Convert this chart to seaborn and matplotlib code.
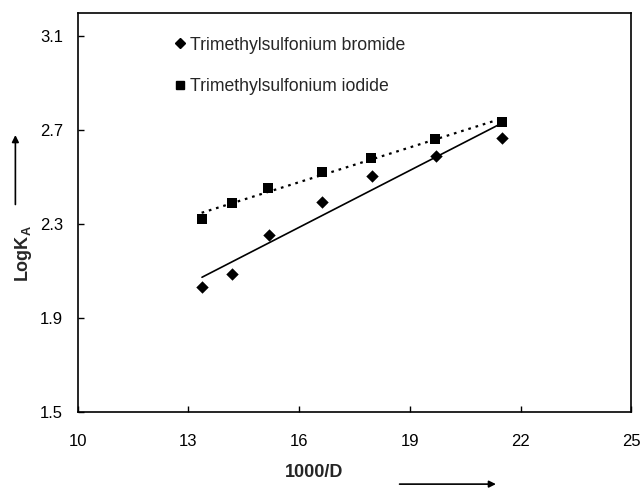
import numpy as np
import pandas as pd
import matplotlib
matplotlib.use("Agg")
import matplotlib.pyplot as plt
import seaborn as sns
from matplotlib.lines import Line2D

# Data
x_bromide = [13.37, 14.19, 15.19, 16.62, 17.97, 19.70, 21.50]
y_bromide = [2.032, 2.089, 2.255, 2.395, 2.503, 2.592, 2.667]
x_iodide = [13.36, 14.17, 15.17, 16.61, 17.94, 19.69, 21.49]
y_iodide = [2.320, 2.391, 2.455, 2.524, 2.581, 2.663, 2.734]
labels = ["Trimethylsulfonium bromide", "Trimethylsulfonium iodide"]
x_ticks = [10, 13, 16, 19, 22, 25]
y_ticks = [1.5, 1.9, 2.3, 2.7, 3.1]

sns.set_style("white")
plt.rcParams['font.family'] = ['Liberation Sans', 'DejaVu Sans']
plt.rcParams['mathtext.fontset'] = 'custom'
plt.rcParams['mathtext.rm'] = 'Liberation Sans'
plt.rcParams['mathtext.bf'] = 'Liberation Sans:bold'

fig = plt.figure(figsize=(6.41, 4.90), dpi=100)
ax = fig.add_axes([0.121, 0.159, 0.864, 0.815])

df_b = pd.DataFrame({"x": x_bromide, "y": y_bromide})
df_i = pd.DataFrame({"x": x_iodide, "y": y_iodide})

sns.regplot(data=df_b, x="x", y="y", ax=ax, ci=None, truncate=True,
            marker="D", color="black",
            scatter_kws=dict(s=40, linewidths=0, alpha=1, zorder=3),
            line_kws=dict(color="black", lw=1.2, linestyle="-"))
sns.regplot(data=df_i, x="x", y="y", ax=ax, ci=None, truncate=True,
            marker="s", color="black",
            scatter_kws=dict(s=50, linewidths=0, alpha=1, zorder=3),
            line_kws=dict(color="black", lw=1.6, linestyle=(0, (1.2, 2.2))))

ax.set_xlim(10, 25)
ax.set_ylim(1.5, 3.2)
ax.set_xticks(x_ticks)
ax.set_yticks(y_ticks)
ax.set_xticklabels([str(t) for t in x_ticks])
ax.set_yticklabels([f"{t:.1f}" for t in y_ticks])
ax.tick_params(axis="both", direction="in", length=4, width=1, labelsize=12,
               colors="black", bottom=True, left=True)
ax.tick_params(axis="x", pad=16)
ax.tick_params(axis="y", pad=10.5)
for s in ax.spines.values():
    s.set_color("black")
    s.set_linewidth(1.2)

ax.set_xlabel("")
ax.set_ylabel("")
fig.text(0.49, 0.035, "1000/D", fontsize=13, fontweight="bold", ha="center", va="center")
fig.text(0.036, 0.482, r"LogK$_{\mathbf{A}}$", fontsize=13, fontweight="bold",
         rotation=90, ha="center", va="center")

# Arrows
ax.annotate("", xy=(0.778, 0.012), xytext=(0.619, 0.012), xycoords="figure fraction",
            textcoords="figure fraction",
            arrowprops=dict(arrowstyle="-|>", color="black", lw=1.2, mutation_scale=10))
ax.annotate("", xy=(0.024, 0.730), xytext=(0.024, 0.577), xycoords="figure fraction",
            textcoords="figure fraction",
            arrowprops=dict(arrowstyle="-|>", color="black", lw=1.2, mutation_scale=10))

handles = [Line2D([], [], marker="D", color="black", linestyle="none", markersize=5.5),
           Line2D([], [], marker="s", color="black", linestyle="none", markersize=6.3)]
ax.legend(handles, labels, loc="upper left", bbox_to_anchor=(0.162, 0.958), frameon=False,
          fontsize=12.7, handlelength=0.6, handletextpad=0.3, labelspacing=1.38,
          borderaxespad=0)

fig.savefig("out.png", dpi=100)
